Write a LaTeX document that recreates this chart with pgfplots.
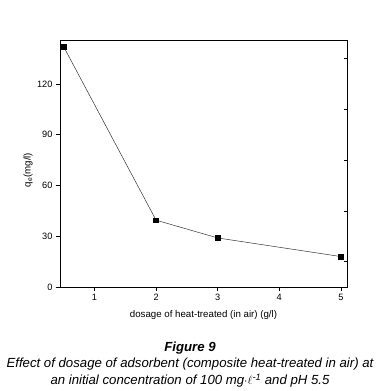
\documentclass[border=0pt]{standalone}
\usepackage{pgfplots}
\pgfplotsset{compat=1.18}
\usepackage{fontspec}
\setmainfont{Liberation Sans}
\begin{document}
\begin{tikzpicture}[x=1pt,y=1pt]
\begin{axis}[
  at={(0,0)}, anchor=south west,
  scale only axis, width=287pt, height=247pt,
  xmin=0.44, xmax=5.1, ymin=0, ymax=146,
  xtick={1,2,3,4,5}, ytick={0,30,60,90,120},
  xtick pos=bottom, ytick pos=left,
  tick align=outside, major tick length=4pt,
  tick style={black, line width=0.6pt},
  axis line style={black, line width=0.7pt},
  /pgf/number format/assume math mode=true,
  ticklabel style={font=\fontsize{9.2}{10}\selectfont},
  xlabel={dosage of heat-treated (in air) (g/l)},
  xlabel style={font=\fontsize{9.7}{11}\selectfont, at={(0.5,0)}, anchor=north, yshift=-20pt},
]
\addplot[black!80, line width=0.5pt, mark=square*, mark size=2.4pt, mark options={black, solid}]
  coordinates {(0.5,142) (2,39.5) (3,29) (5,18)};
\end{axis}
\begin{axis}[
  at={(0,0)}, anchor=south west,
  scale only axis, width=287pt, height=247pt,
  xmin=0.44, xmax=5.1, ymin=0, ymax=146,
  axis x line=none, axis y line*=right,
  ytick={15,45,75,105,135}, yticklabels={},
  tick align=inside, major tick length=3pt,
  tick style={black, line width=0.6pt},
  axis line style={black, line width=0.7pt},
]
\end{axis}
\node[rotate=90, font=\fontsize{9.7}{11}\selectfont] at (-32,117) {q$_{\mathrm{e}}$(mg/l)};
\node[font=\fontsize{13.2}{15}\selectfont\bfseries\itshape] at (130,-61) {Figure 9};
\node[font=\fontsize{13.2}{15}\selectfont\itshape] at (130,-77) {Effect of dosage of adsorbent (composite heat-treated in air) at};
\node[font=\fontsize{13.2}{15}\selectfont\itshape] at (130,-94) {an initial concentration of 100 mg$\cdot\ell$\textsuperscript{-1} and pH 5.5};
\pgfresetboundingbox
\path (-60,-104) rectangle (319,287);
\end{tikzpicture}
\end{document}
